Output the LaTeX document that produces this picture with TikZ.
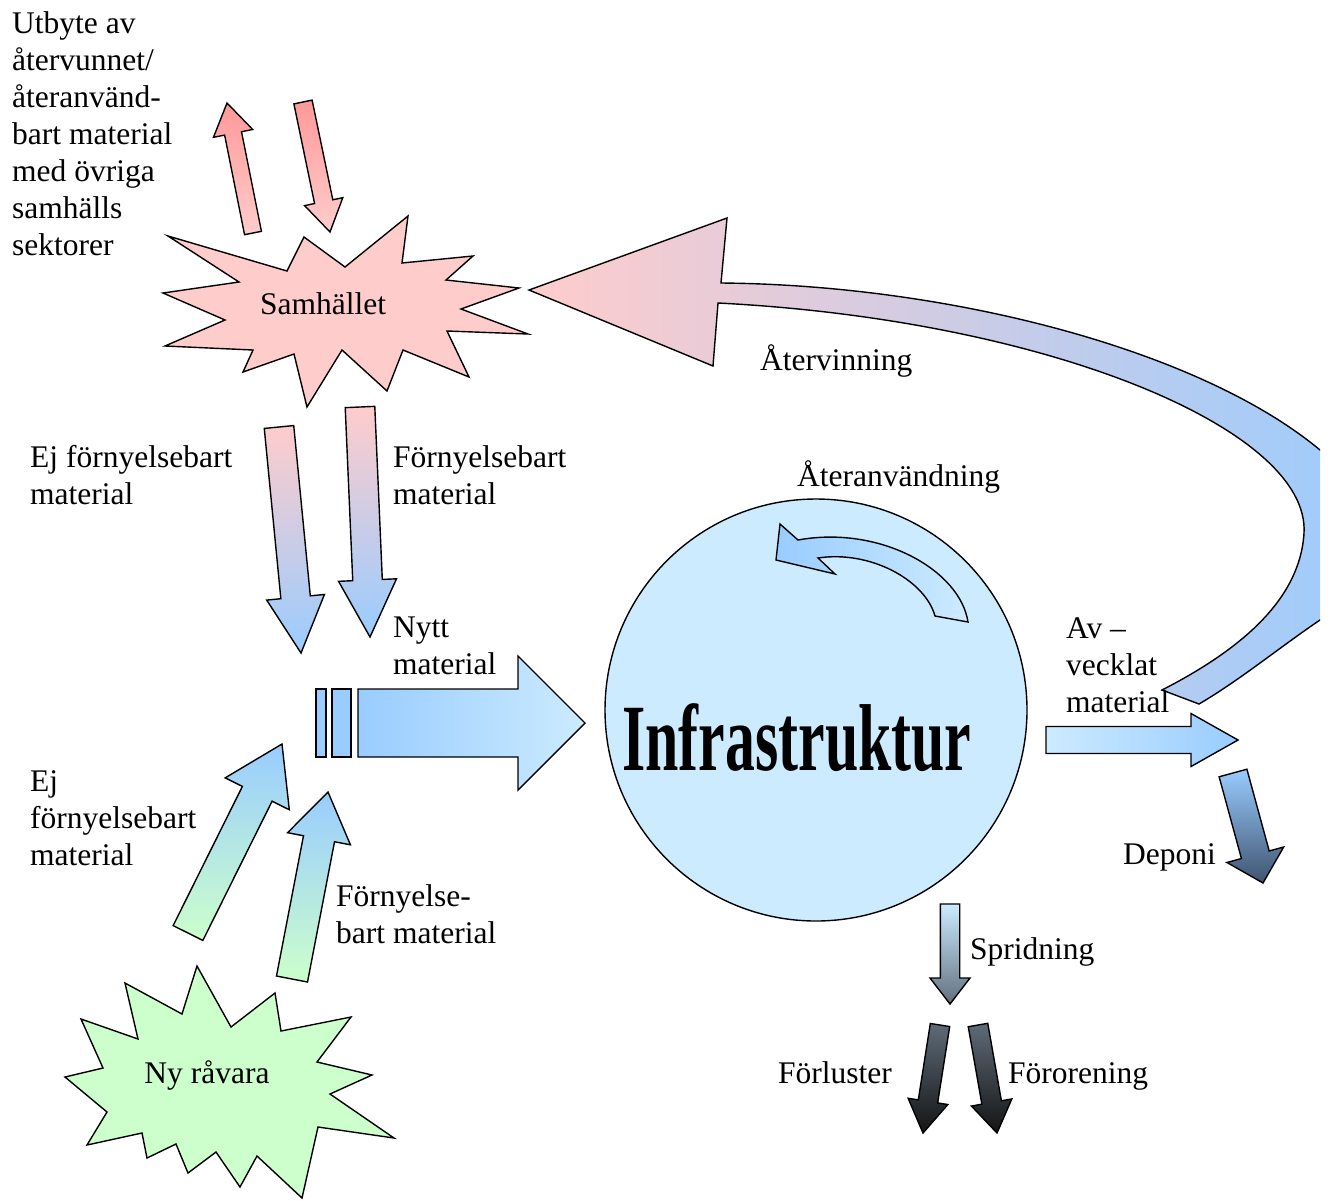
\documentclass[tikz,border=0pt]{standalone}
\usepackage{fontspec}
\usepackage{graphicx}
\setmainfont{Liberation Serif}
\usetikzlibrary{calc}

% Farger
\definecolor{rosa}{HTML}{FFCCCC}
\definecolor{rosamork}{HTML}{FF9999}
\definecolor{gron}{HTML}{CCFFCC}
\definecolor{bla}{HTML}{99CCFF}
\definecolor{ljusbla}{HTML}{CCEBFF}
\definecolor{skiffer}{HTML}{3F5470}
\definecolor{gra}{HTML}{62707E}
\definecolor{morkgra}{HTML}{5E6B78}
\definecolor{svart}{HTML}{141414}

\tikzset{
  kontur/.style={draw=black, line width=1.4pt, line join=miter},
  etikett/.style={anchor=base west, align=left, inner sep=0pt},
}

% blockpil: #1 stil, #2 bas, #3 spets, #4 halv skaftbredd, #5 halv huvudbredd, #6 huvudlangd
\newcommand{\blockpil}[6]{%
  \coordinate (pilhuvud) at ($(#3)!#6!(#2)$);
  \shadedraw[kontur,#1] ($(#2)!#4!90:(#3)$) -- ($(pilhuvud)!#4!90:(#3)$)
    -- ($(pilhuvud)!#5!90:(#3)$) -- (#3) -- ($(pilhuvud)!#5!-90:(#3)$)
    -- ($(pilhuvud)!#4!-90:(#3)$) -- ($(#2)!#4!-90:(#3)$) -- cycle;}

\begin{document}
\begin{tikzpicture}[x=1pt, y=-1pt, line cap=round, font=\fontsize{31.5}{37}\selectfont]
\useasboundingbox (0,0) rectangle (1332,1200);

% Samhallet
\filldraw[kontur, fill=rosa] (168,236) -- (287,271) -- (304,237) -- (345,267) -- (408,216)
  -- (402,263) -- (473,256) -- (446,280) -- (519,288) -- (461,309) -- (528,334) -- (447,331)
  -- (469,377) -- (403,350) -- (387,391) -- (342,350) -- (307,407) -- (294,354) -- (243,372)
  -- (253,350) -- (165,346) -- (225,320) -- (163,293) -- (239,282) -- cycle;
\node (samhallet) at (323,314) [anchor=base] {Samhället};

% Ny ravara
\filldraw[kontur, fill=gron] (197,966) -- (231,1027) -- (275,993) -- (281,1031) -- (351,1017)
  -- (317,1062) -- (372,1075) -- (330,1094) -- (394,1138) -- (318,1127) -- (302,1198)
  -- (257,1156) -- (240,1187) -- (216,1152) -- (188,1173) -- (176,1144) -- (147,1158)
  -- (142,1133) -- (87,1145) -- (107,1112) -- (65,1077) -- (103,1068) -- (81,1019)
  -- (138,1039) -- (125,983) -- (182,1014) -- cycle;
\node (ravara) at (207,1083) [anchor=base] {Ny råvara};

% Infrastruktur
\node[circle, kontur, fill=ljusbla, minimum size=422pt, inner sep=0pt] (infra) at (816,710) {};
\node[anchor=base, font=\bfseries\fontsize{95}{95}\selectfont] (infratext) at (797,770)
  {\scalebox{0.63}[1]{Infrastruktur}};

% Ateranvandning
\shadedraw[kontur, left color=bla, right color=ljusbla] (798,540)
  .. controls (880,525) and (960,570) .. (968,622) -- (935,616)
  .. controls (925,580) and (870,550) .. (818,558)
  -- (835,574) -- (776,560) -- (780,524) -- cycle;

% Atervinning
\begin{scope}
\clip (0,0) rectangle (1320,1200);
\shadedraw[kontur, left color=rosa, right color=bla] (529,290) -- (727,218) -- (721,283)
  .. controls (950,285) and (1200,350) .. (1320,450)
  .. controls (1400,520) and (1380,580) .. (1320,620)
  .. controls (1280,647) and (1240,680) .. (1199,704)
  -- (1162,690)
  .. controls (1240,650) and (1300,600) .. (1304,533)
  .. controls (1310,430) and (1050,320) .. (718,303)
  -- (713,366) -- cycle;
\end{scope}

% pilarnas andpunkter
\coordinate (utbas) at (253,233);    \coordinate (utspets) at (227,103);
\coordinate (inbas) at (303,102);    \coordinate (inspets) at (330,232);
\coordinate (ejbas) at (279,427);    \coordinate (ejspets) at (301,653);
\coordinate (fbas) at (360,407);     \coordinate (fspets) at (370,637);
\coordinate (rejbas) at (188,933);   \coordinate (rejspets) at (282,744);
\coordinate (rfbas) at (292,979);    \coordinate (rfspets) at (328,792);
\coordinate (nyttbas) at (358,723);  \coordinate (nyttspets) at (585,723);
\coordinate (avbas) at (1046,740);   \coordinate (avspets) at (1238,740);
\coordinate (depbas) at (1233,773);  \coordinate (depspets) at (1263,883);
\coordinate (spridbas) at (950,904); \coordinate (spridspets) at (950,1004);
\coordinate (forlbas) at (940,1025); \coordinate (forlspets) at (923,1133);
\coordinate (fororbas) at (978,1025);\coordinate (fororspets) at (997,1133);

\blockpil{top color=rosamork, bottom color=rosa}{utbas}{utspets}{8.6pt}{20pt}{31pt}
\blockpil{top color=rosamork, bottom color=rosa}{inbas}{inspets}{9.3pt}{19.5pt}{31pt}
\blockpil{top color=rosa, bottom color=bla}{ejbas}{ejspets}{14.8pt}{29pt}{56pt}
\blockpil{top color=rosa, bottom color=bla}{fbas}{fspets}{14.8pt}{29pt}{57pt}
\blockpil{top color=bla, bottom color=gron}{rejbas}{rejspets}{16.6pt}{35.8pt}{55.6pt}
\blockpil{top color=bla, bottom color=gron}{rfbas}{rfspets}{15.8pt}{32pt}{47.6pt}
\blockpil{left color=bla, right color=ljusbla}{nyttbas}{nyttspets}{34pt}{67pt}{67pt}
\blockpil{left color=ljusbla, right color=bla}{avbas}{avspets}{13.5pt}{26.5pt}{47pt}
\blockpil{top color=bla, bottom color=skiffer}{depbas}{depspets}{14.4pt}{29.4pt}{29.3pt}
\blockpil{top color=ljusbla, bottom color=gra}{spridbas}{spridspets}{9.7pt}{20pt}{26pt}
\blockpil{top color=morkgra, bottom color=svart}{forlbas}{forlspets}{9.8pt}{20.1pt}{32pt}
\blockpil{top color=morkgra, bottom color=svart}{fororbas}{fororspets}{9.9pt}{20.5pt}{31pt}

% smala staplar framfor Nytt material
\filldraw[kontur, fill=bla] (316,689) rectangle (326,757);
\filldraw[kontur, fill=bla] (332,689) rectangle (351,757);

% texter (base = sista radens baslinje)
\node[etikett] (utbyte) at (12,255) {Utbyte av\\återvunnet/\\återanvänd-\\bart material\\med övriga\\samhälls\\sektorer};
\node[etikett] (ejsamh) at (30,504) {Ej förnyelsebart\\material};
\node[etikett] (fsamh) at (393,504) {Förnyelsebart\\material};
\node[etikett] (nytt) at (393,674) {Nytt\\material};
\node[etikett] (avveck) at (1066,712) {Av –\\vecklat\\material};
\node[etikett] (ejrav) at (30,865) {Ej\\förnyelsebart\\material};
\node[etikett] (frav) at (336,943) {Förnyelse-\\bart material};
\node[etikett] (deponi) at (1123,864) {Deponi};
\node[etikett] (sprid) at (970,959) {Spridning};
\node[etikett] (forl) at (778,1083) {Förluster};
\node[etikett] (foror) at (1008,1083) {Förorening};
\node[etikett] (atervinn) at (760,370) {Återvinning};
\node[etikett] (ateranv) at (797,486) {Återanvändning};
\end{tikzpicture}
\end{document}
